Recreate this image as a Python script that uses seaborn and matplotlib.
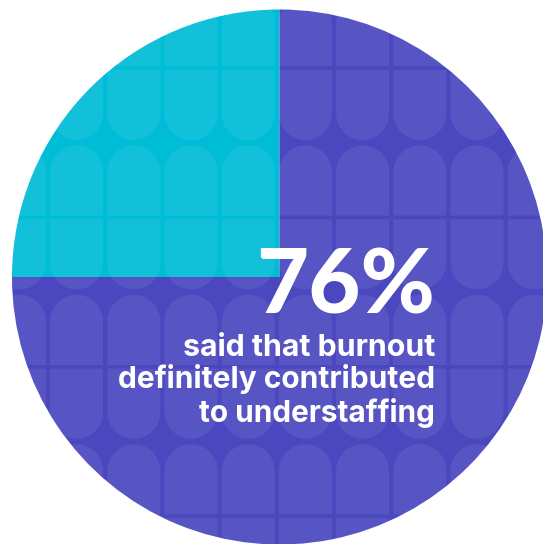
import numpy as np
import matplotlib
matplotlib.use("Agg")
import matplotlib.pyplot as plt
from matplotlib.patches import Circle, Polygon
import seaborn as sns

# ---- data ----
segment_labels = ["Other responses", "Definitely contributed"]
segment_shares = [25, 75]          # shares as drawn (cyan quadrant vs. purple rest)
headline_value = "76%"
caption_lines = ["said that burnout", "definitely contributed", "to understaffing"]

# ---- style ----
sns.set_theme(style="white")
plt.rcParams["font.family"] = ["Inter", "DejaVu Sans"]
palette = sns.color_palette(["#00BDD7", "#4A47BF"])

W, H = 543, 544
fig = plt.figure(figsize=(W / 100, H / 100), dpi=100)
fig.patch.set_facecolor("white")
ax = fig.add_axes([0, 0, 1, 1])

CX, CY, R = 279.5, 277.0, 267.5

wedges, _ = ax.pie(segment_shares, colors=palette, startangle=180, counterclock=True,
                   center=(CX, CY), radius=R, wedgeprops=dict(linewidth=0))
ax.set_xlim(0, W)
ax.set_ylim(H, 0)
ax.set_aspect("auto")
ax.axis("off")

clip = Circle((CX, CY), R, transform=ax.transData, facecolor="none", edgecolor="none")
ax.add_patch(clip)

# ---- decorative pill pattern ----
col_pitch, row_pitch = 57.2, 149.4
pill_w, pill_half_h, line_gap = 53.0, 72.0, 1.8
col_centers = 19.4 + col_pitch * np.arange(10)
row_centers = 68.0 + row_pitch * np.arange(-1, 4)
r = pill_w / 2
theta = np.linspace(np.pi, 0, 40)

def half_pill(cx, cy, direction):
    # direction -1: upper half (towards smaller y), +1 lower half
    y_flat = cy + direction * line_gap
    y_arc = cy + direction * (pill_half_h - r)
    pts = [(cx - r, y_flat), (cx - r, y_arc)]
    pts += [(cx + r * np.cos(t), y_arc + direction * r * np.sin(t)) for t in theta]
    pts += [(cx + r, y_flat)]
    return pts

for cy in row_centers:
    for cx in col_centers:
        for d in (-1, 1):
            p = Polygon(half_pill(cx, cy, d), closed=True, facecolor="white",
                        alpha=0.075, edgecolor="none")
            ax.add_patch(p)
            p.set_clip_path(clip)

# ---- text ----
renderer = fig.canvas.get_renderer()

def fit_text(x, y, s, target_w, size0, weight, family=None):
    kw = {} if family is None else {"family": family}
    t = ax.text(x, y, s, ha="right", va="baseline", color="white",
                fontsize=size0, fontweight=weight, **kw)
    w = t.get_window_extent(renderer).width
    t.set_fontsize(size0 * target_w / w)
    return t

fit_text(435, 313, headline_value, 179, 60, "black", ["Lato", "Inter", "DejaVu Sans"])
line_ys = [356, 388.5, 421.5]
widths = [253, 317, 236]
for s, y, tw in zip(caption_lines, line_ys, widths):
    fit_text(435, y, s, tw, 18, "bold")

fig.savefig("out.png", dpi=100, facecolor="white")
